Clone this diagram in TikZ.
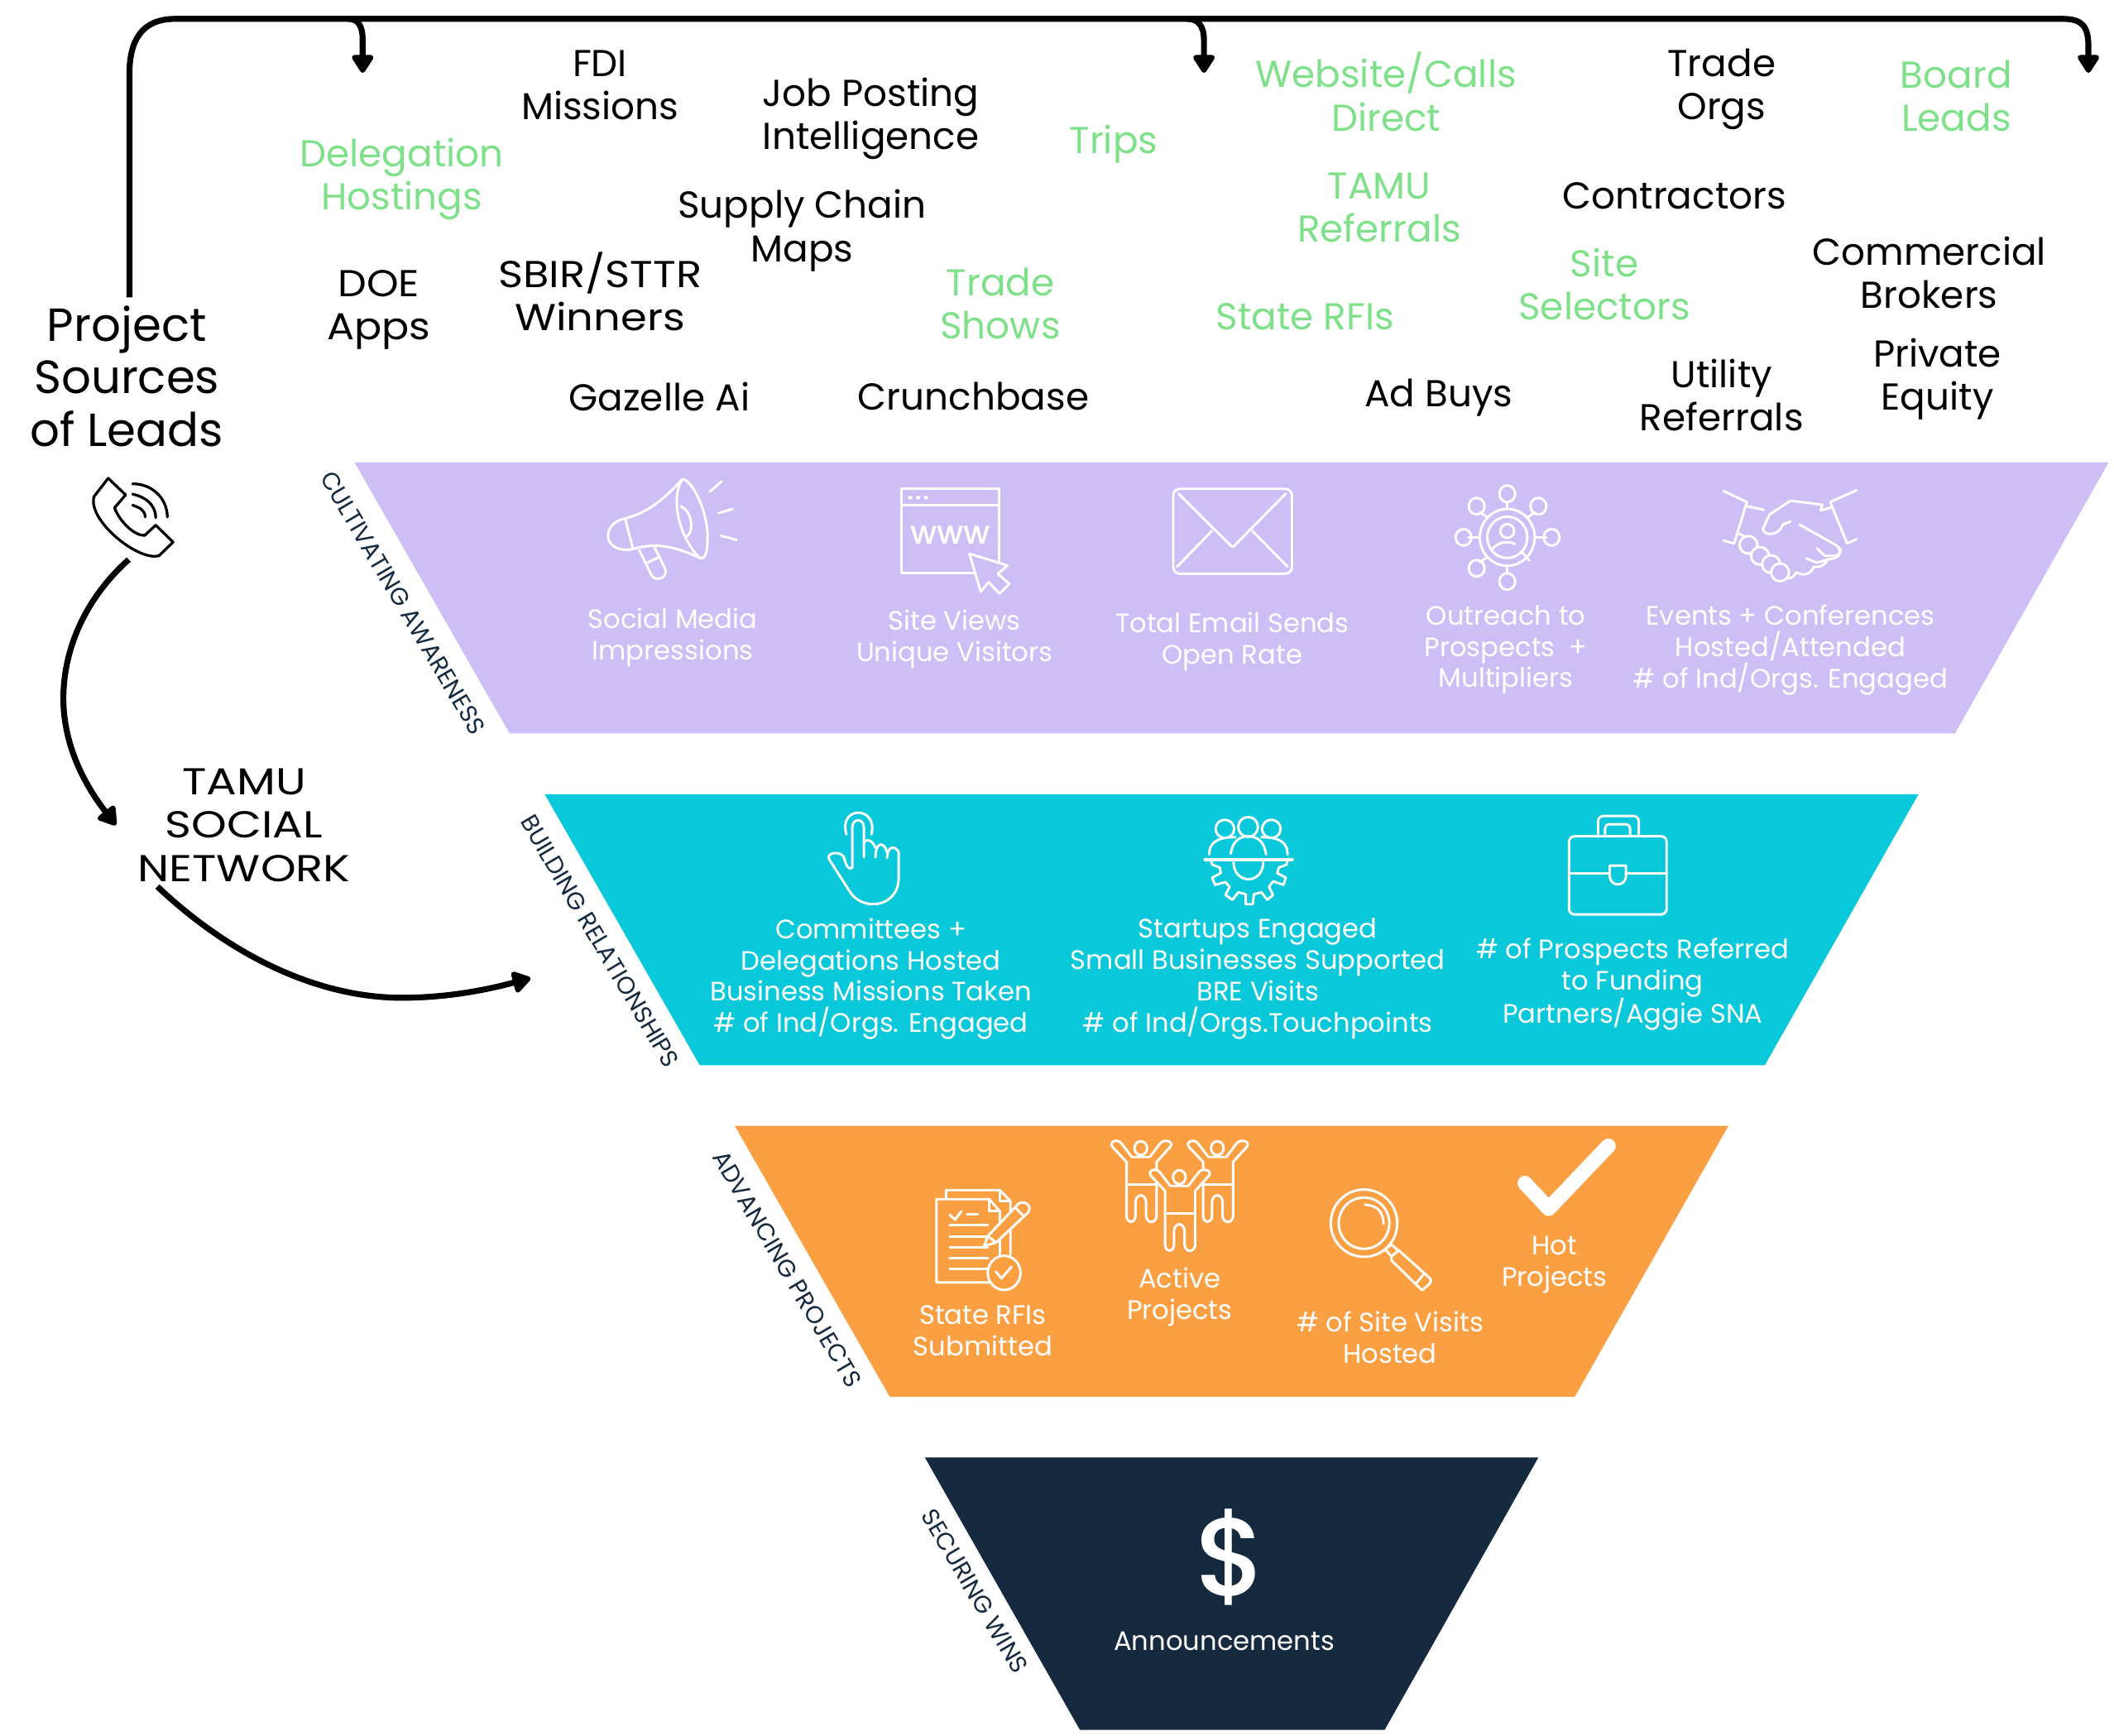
\documentclass[tikz,border=0pt]{standalone}
\usepackage{fontspec}
\setmainfont{Poppins}
\newfontfamily\heavyfont{Poppins Medium}
\usetikzlibrary{arrows.meta}
\definecolor{awarenessfill}{HTML}{CDBFF5}
\definecolor{relationfill}{HTML}{08C8DA}
\definecolor{projectfill}{HTML}{FA9F42}
\definecolor{winsfill}{HTML}{15293F}
\definecolor{leadgreen}{HTML}{7FE08A}

\begin{document}
\begin{tikzpicture}[
    x=1pt, y=-1pt,
    lead/.style={align=center, inner sep=0pt, font=\fontsize{27.8}{32}\selectfont},
    widelead/.style={lead, transform shape, xscale=1.13},
    warmlead/.style={lead, text=leadgreen},
    metric/.style={align=center, inner sep=0pt, text=white, font=\fontsize{19.8}{23.2}\selectfont},
    stagelabel/.style={inner sep=0pt, rotate=-59.5, text=winsfill, font=\fontsize{18}{20}\selectfont},
    flow/.style={line width=4.4pt, -{Triangle[length=15pt,width=18pt,round]}},
    icon/.style={draw=white, line width=1.8pt, line cap=round, line join=round},
    zoomA/.style={shift={(429.6,343.7)}, x=.2349pt, y=.2046pt},
    zoomB/.style={shift={(797.8,343.7)}, x=.3914pt, y=.2046pt},
    zoomC/.style={shift={(589.1,595.3)}, x=.4305pt, y=.2046pt},
    zoomD/.style={shift={(675.1,840.7)}, x=.3914pt, y=.2046pt},
    zoomE/.style={shift={(36.8,331.4)}, x=.2349pt, y=.274pt}
]
    \useasboundingbox (0,0) rectangle (1568,1287);

    \fill[awarenessfill] (263,343) -- (1564,343) -- (1450,544) -- (378,544) -- cycle;
    \fill[relationfill] (404,589) -- (1423,589) -- (1309,790) -- (519,790) -- cycle;
    \fill[projectfill] (545,835) -- (1282,835) -- (1168,1036) -- (660,1036) -- cycle;
    \fill[winsfill] (686,1081) -- (1141,1081) -- (1027,1283) -- (801,1283) -- cycle;

    \node[stagelabel] (awareness) at (299,447) {CULTIVATING AWARENESS};
    \node[stagelabel] (relationships) at (445,698) {BUILDING RELATIONSHIPS};
    \node[stagelabel] (advancing) at (584,941) {ADVANCING PROJECTS};
    \node[stagelabel] (securing) at (723,1180) {SECURING WINS};

    \node[lead, font=\fontsize{34.5}{39}\selectfont] (sources) at (94,279) {Project\\Sources\\of Leads};
    \node[lead, transform shape, xscale=1.2] (network) at (181,612) {TAMU\\SOCIAL\\NETWORK};

    \node[lead] (fdi) at (445,63) {FDI\\Missions};
    \node[lead] (jobs) at (646,88) {Job Posting\\Intelligence};
    \node[lead] (chain) at (595,171) {Supply Chain\\Maps};
    \node[widelead, xscale=.96] (doe) at (281,230) {DOE\\Apps};
    \node[widelead] (sbir) at (445,216) {SBIR/STTR\\Winners};
    \node[lead] (gazelle) at (489,294) {Gazelle Ai};
    \node[lead] (crunch) at (722,294) {Crunchbase};
    \node[lead] (adbuys) at (1067,295) {Ad Buys};
    \node[lead] (utility) at (1277,293) {Utility\\Referrals};
    \node[lead] (equity) at (1437,281) {Private\\Equity};
    \node[lead] (brokers) at (1431,202) {Commercial\\Brokers};
    \node[lead] (contractors) at (1242,145) {Contractors};
    \node[lead] (orgs) at (1277,66) {Trade\\Orgs};

    \node[warmlead] (hostings) at (298,133) {Delegation\\Hostings};
    \node[warmlead] (trips) at (826,107) {Trips};
    \node[warmlead] (shows) at (742,225) {Trade\\Shows};
    \node[warmlead] (website) at (1028,68) {Website/Calls\\Direct};
    \node[warmlead] (referrals) at (1023,154) {TAMU\\Referrals};
    \node[warmlead] (rfis) at (968,235) {State RFIs};
    \node[warmlead] (selectors) at (1190,211) {Site\\Selectors};
    \node[warmlead] (board) at (1451,71) {Board\\Leads};

    \node[metric] (social) at (499,473) {Social Media\\Impressions};
    \node[metric] (views) at (708,474) {Site Views\\Unique Visitors};
    \node[metric] (email) at (914,476) {Total Email Sends\\Open Rate};
    \node[metric] (outreach) at (1117,482) {Outreach to\\Prospects\ \ +\\Multipliers};
    \node[metric] (events) at (1328,482) {Events + Conferences\\Hosted/Attended\\\# of Ind/Orgs. Engaged};
    \node[metric] (committees) at (646,726) {Committees +\\Delegations Hosted\\Business Missions Taken\\\# of Ind/Orgs. Engaged};
    \node[metric] (startups) at (933,726) {Startups Engaged\\Small Businesses Supported\\BRE Visits\\\# of Ind/Orgs.Touchpoints};
    \node[metric] (funding) at (1211,730) {\# of Prospects Referred\\to Funding\\Partners/Aggie SNA};
    \node[metric] (submitted) at (729,987) {State RFIs\\Submitted};
    \node[metric] (active) at (875,962) {Active\\Projects};
    \node[metric] (visits) at (1031,992) {\# of Site Visits\\Hosted};
    \node[metric] (hot) at (1153,938) {Hot\\Projects};
    \node[metric] (announce) at (908,1217) {Announcements};
    \node[text=white, inner sep=0pt, font=\fontsize{82}{82}\heavyfont] (dollar) at (913,1155) {\$};

    \begin{scope}[zoomA, y=-.2046pt]
        \draw[icon] (145,200) .. controls (210,180) and (260,140) .. (325,58)
            .. controls (350,50) and (410,170) .. (405,280) .. controls (405,330) and (395,350) .. (380,342)
            .. controls (300,300) and (240,285) .. (165,312) .. controls (70,325) and (70,215) .. (145,200);
        \draw[icon] (325,58) .. controls (290,120) and (310,260) .. (380,342);
        \draw[icon] (320,155) .. controls (355,170) and (365,245) .. (340,265);
        \draw[icon] (145,200) -- (170,310);
        \draw[icon] (190,315) -- (228,405) .. controls (245,435) and (285,410) .. (270,378) -- (238,305);
        \draw[icon] (215,360) -- (248,342);
        \draw[icon] (412,103) -- (450,65);
        \draw[icon] (440,180) -- (485,165);
        \draw[icon] (448,262) -- (497,277);

        \draw[icon] (1017,92) rectangle (1325,397);
        \draw[icon] (1017,150) -- (1325,150);
        \foreach \dotx in {1045,1070,1095}
            \fill[white] (\dotx,124) circle [x radius=7, y radius=7];
        \draw[icon, fill=awarenessfill] (1232,327) -- (1352,370) -- (1322,400) -- (1358,437) -- (1327,472)
            -- (1293,430) -- (1268,465) -- cycle;
    \end{scope}
    \node[text=white, inner sep=0pt, font=\fontsize{24}{24}\heavyfont] (www) at (705,397) {www};

    \begin{scope}[zoomB, y=-.2046pt]
        \draw[icon, rounded corners=5pt] (185,92) rectangle (410,400);
        \draw[icon] (195,110) -- (290,290) .. controls (297,305) and (300,305) .. (305,290) -- (398,110);
        \draw[icon] (192,375) -- (258,245);
        \draw[icon] (402,375) -- (335,245);

        \draw[icon] (818,268) ellipse [x radius=38, y radius=75];
        \draw[icon] (818,268) ellipse [x radius=52, y radius=103];
        \draw[icon] (818,245) ellipse [x radius=13, y radius=25];
        \draw[icon] (790,310) .. controls (800,285) and (820,280) .. (832,292);
        \draw[icon] (845,320) -- (860,352);
        \foreach \nodex/\nodey/\stubx/\stuby in {818/110/818/165, 877/155/857/195, 902/268/870/268, 818/428/818/372,
            760/380/780/340, 735/268/766/268, 760/155/780/195}
        {
            \draw[icon] (\nodex,\nodey) ellipse [x radius=15, y radius=30];
            \draw[icon] (\stubx,\stuby) -- ({\nodex+0.3*(\stubx-\nodex)},{\nodey+0.55*(\stuby-\nodey)});
        }

        \draw[icon] (1228,100) -- (1272,140) -- (1248,290) -- (1228,280);
        \draw[icon] (1272,155) -- (1304,168);
        \draw[icon] (1480,97) -- (1430,140) -- (1462,290) -- (1480,275);
        \draw[icon] (1302,240) -- (1315,185) -- (1355,135) -- (1415,150) -- (1412,170) -- (1432,160);
        \draw[icon] (1302,240) .. controls (1310,270) and (1335,255) .. (1340,222) -- (1355,210);
        \draw[icon] (1372,222) -- (1440,295) .. controls (1452,310) and (1450,330) .. (1440,335) -- (1420,335) -- (1405,308);
        \draw[icon] (1450,310) .. controls (1450,330) and (1445,345) .. (1425,348) -- (1405,360) -- (1385,345);
        \draw[icon] (1425,348) .. controls (1420,370) and (1410,378) .. (1398,375);
        \draw[icon] (1398,375) .. controls (1395,400) and (1380,410) .. (1365,395);
        \draw[icon] (1365,395) .. controls (1360,420) and (1345,425) .. (1340,400);
        \draw[icon] (1258,255) -- (1272,270);
        \foreach \knuckx/\knucky in {1275/295,1297/335,1318/365,1335/395}
            \draw[icon, fill=awarenessfill] (\knuckx,\knucky) ellipse [x radius=17, y radius=32];
    \end{scope}

    \begin{scope}[zoomC, y=-.2046pt]
        \draw[icon] (90,115) .. controls (75,10) and (145,10) .. (133,115);
        \draw[icon] (100,235) -- (100,90) .. controls (100,55) and (120,55) .. (120,90) -- (120,198);
        \draw[icon] (100,235) .. controls (95,245) and (90,235) .. (85,195) .. controls (78,175) and (55,180) .. (60,205)
            -- (95,320) .. controls (115,395) and (180,385) .. (180,270) -- (180,180)
            .. controls (175,155) and (160,155) .. (160,200);
        \draw[icon] (160,180) .. controls (155,140) and (140,140) .. (140,198);
        \draw[icon] (140,165) .. controls (135,130) and (120,130) .. (120,150);

        \draw[icon] (742,95) ellipse [x radius=16, y radius=33];
        \draw[icon] (782,88) ellipse [x radius=17, y radius=36];
        \draw[icon] (822,95) ellipse [x radius=16, y radius=33];
        \draw[icon] (715,188) .. controls (715,150) and (725,125) .. (760,125);
        \draw[icon] (752,185) .. controls (755,145) and (765,122) .. (782,122) .. controls (800,122) and (810,145) .. (813,188);
        \draw[icon] (805,125) .. controls (840,125) and (850,150) .. (850,188);
        \draw[icon, line width=2.6pt] (708,206) -- (858,206);
        \draw[icon] (757,210) .. controls (755,300) and (810,300) .. (808,210);
        \draw[icon] (718,210) -- (720,225) -- (733,235) -- (735,255) -- (720,272) -- (725,298) -- (743,288)
            -- (750,305) -- (743,335) -- (755,352) -- (765,325) -- (778,332) -- (778,368) -- (790,368)
            -- (792,332) -- (805,325) -- (815,352) -- (825,335) -- (818,305) -- (825,285) -- (843,298)
            -- (847,272) -- (832,255) -- (835,235) -- (848,225) -- (850,210);

        \draw[icon, rounded corners=4pt] (1335,122) rectangle (1503,405);
        \draw[icon] (1335,255) -- (1405,255);
        \draw[icon] (1433,255) -- (1503,255);
        \draw[icon] (1405,228) -- (1433,228) -- (1433,270) .. controls (1430,305) and (1408,305) .. (1405,270) -- cycle;
        \draw[icon, rounded corners=4pt] (1385,120) -- (1385,48) -- (1455,48) -- (1455,120);
        \draw[icon, rounded corners=3pt] (1397,120) -- (1397,78) -- (1440,78) -- (1440,120);
    \end{scope}

    \begin{scope}[zoomD, y=-.2046pt]
        \draw[icon] (68,238) -- (68,205) -- (170,205) -- (190,245) -- (190,440);
        \draw[icon] (170,205) -- (170,245) -- (190,245);
        \draw[icon] (150,540) -- (50,540) -- (50,238) -- (150,238) -- (170,282) -- (170,440);
        \draw[icon] (150,238) -- (150,282) -- (170,282);
        \draw[icon] (75,295) -- (85,312) -- (97,282);
        \draw[icon] (108,293) -- (128,293);
        \foreach \rulev in {333,373,413,452,490}
            \draw[icon] (75,\rulev) -- (147,\rulev);
        \draw[icon, fill=projectfill] (140,408) -- (147,372) -- (205,255) .. controls (215,240) and (232,260) .. (224,285)
            -- (163,395) -- cycle;
        \draw[icon] (147,372) -- (163,395);
        \draw[icon] (200,270) -- (213,295);
        \draw[icon, fill=projectfill] (178,505) ellipse [x radius=31, y radius=62];
        \draw[icon] (162,500) -- (173,525) -- (192,483);

        \foreach \dx/\dy in {-73/-105,72/-105,0/0}
        {
            \draw[icon, fill=projectfill] (493+\dx,190+\dy) -- (473+\dx,140+\dy) .. controls (465+\dx,122+\dy) and (448+\dx,135+\dy) .. (457+\dx,155+\dy)
                -- (483+\dx,208+\dy) -- (483+\dx,405+\dy) .. controls (485+\dx,432+\dy) and (498+\dx,432+\dy) .. (500+\dx,405+\dy)
                -- (500+\dx,350+\dy) .. controls (503+\dx,322+\dy) and (517+\dx,322+\dy) .. (520+\dx,350+\dy)
                -- (520+\dx,405+\dy) .. controls (522+\dx,432+\dy) and (538+\dx,432+\dy) .. (540+\dx,405+\dy)
                -- (540+\dx,208+\dy) -- (565+\dx,155+\dy) .. controls (575+\dx,135+\dy) and (555+\dx,122+\dy) .. (547+\dx,140+\dy)
                -- (527+\dx,190+\dy) -- cycle;
            \draw[icon] (483+\dx,290+\dy) -- (540+\dx,290+\dy);
            \draw[icon] (510+\dx,158+\dy) ellipse [x radius=12, y radius=25];
        }

        \draw[icon] (860,325) ellipse [x radius=63, y radius=122];
        \draw[icon] (860,325) ellipse [x radius=48, y radius=93];
        \draw[icon] (862,258) .. controls (885,260) and (897,285) .. (897,328);
        \draw[icon] (900,420) -- (912,402) -- (925,425) -- (912,445) -- cycle;
        \draw[icon] (925,422) -- (985,525) .. controls (990,535) and (985,545) .. (970,568) -- (912,460) -- (912,445);
        \draw[icon] (972,512) -- (958,545);
        \draw[white, line width=11pt, line cap=round, line join=round] (1165,180) -- (1210,272) -- (1323,45);
    \end{scope}

    \coordinate (phonecall) at (95.5,415);
    \coordinate (orgtop) at (1549,54);
    \coordinate (firstdrop) at (269,54);
    \coordinate (seconddrop) at (893,54);
    \coordinate (networkin) at (86,612);
    \coordinate (networkout) at (116.7,657.5);
    \coordinate (buildingin) at (393.5,725.5);

    \begin{scope}[zoomE, y=-.274pt]
        \draw[line width=2pt, line join=round, line cap=round] (185,85) -- (240,130) -- (205,165)
            .. controls (220,200) and (265,240) .. (300,240) -- (335,212) -- (390,258) -- (345,295)
            .. controls (280,310) and (120,200) .. (140,135) -- cycle;
        \draw[line width=2pt, line cap=round] (262,100) .. controls (320,100) and (370,135) .. (372,190);
        \draw[line width=2pt, line cap=round] (262,128) .. controls (300,135) and (335,155) .. (335,192);
        \draw[line width=2pt, line cap=round] (262,158) .. controls (285,165) and (300,170) .. (302,190);
    \end{scope}

    \draw[flow] ([xshift=2pt,yshift=6pt]sources.north) -- (96,55) .. controls (96,30) and (105,14) .. (130,14)
        -- (1530,14) .. controls (1545,14) and (1549,20) .. (1549,35) -- (orgtop);
    \draw[flow] (258,14) .. controls (265,14) and (269,18) .. (269,30) -- (firstdrop);
    \draw[flow] (880,14) .. controls (888,14) and (893,18) .. (893,30) -- (seconddrop);
    \draw[flow] (phonecall) .. controls (62,445) and (47,483) .. (47,518)
        .. controls (47,555) and (65,585) .. (networkin);
    \draw[flow] (networkout) .. controls (170,708) and (235,740) .. (298,740)
        .. controls (335,740) and (365,733) .. (buildingin);
\end{tikzpicture}
\end{document}
